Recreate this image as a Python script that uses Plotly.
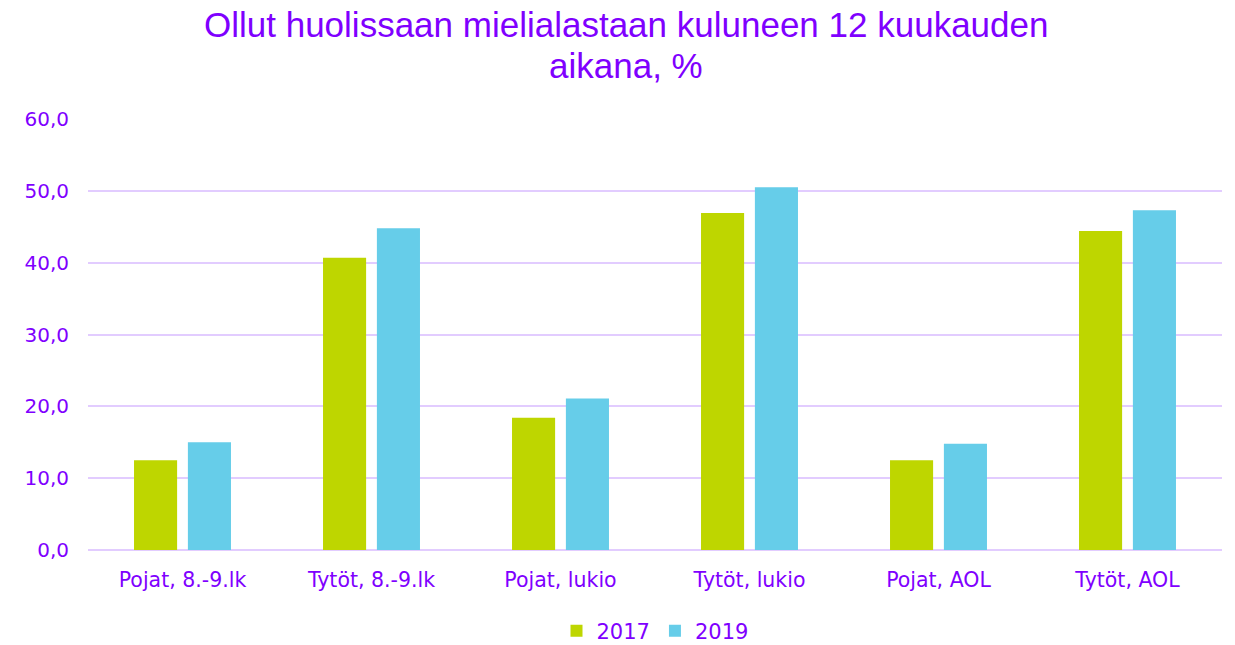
import plotly.graph_objects as go

# Ryhmät ja arvot (%)
ryhmat = ['Pojat, 8.-9.lk', 'Tytöt, 8.-9.lk', 'Pojat, lukio', 'Tytöt, lukio', 'Pojat, AOL', 'Tytöt, AOL']
arvot_2017 = [12.5, 40.7, 18.4, 46.9, 12.5, 44.4]
arvot_2019 = [15.0, 44.8, 21.1, 50.5, 14.8, 47.3]
otsikko_rivit = ['Ollut huolissaan mielialastaan kuluneen 12 kuukauden', 'aikana, %']

violetti = '#7F00FF'
otsikkofontti = 'Liberation Sans, Arial, sans-serif'
fontti = 'DejaVu Sans, sans-serif'

fig = go.Figure()
fig.add_trace(go.Bar(x=ryhmat, y=arvot_2017, name='2017',
                     marker=dict(color='#BED600', line=dict(width=0))))
fig.add_trace(go.Bar(x=ryhmat, y=arvot_2019, name='2019',
                     marker=dict(color='#66CDE9', line=dict(width=0))))

# otsikko kahtena rivinä, keskitettynä koko kuvan leveydelle
for rivi, y_px in zip(otsikko_rivit, [17, 58]):
    fig.add_annotation(text=rivi, showarrow=False,
                       xref='paper', x=(617.5 - 80) / 1134, xanchor='center',
                       yref='paper', y=1 + (111 - y_px) / 431, yanchor='middle',
                       font=dict(family=otsikkofontti, size=35, color=violetti))

# sivulla on 8 px oletusreunus, joten marginaalit on siirretty sen verran
fig.update_layout(
    width=1235, height=645,
    paper_bgcolor='white', plot_bgcolor='white',
    barmode='group', bargap=0.43, bargroupgap=0.2,
    margin=dict(l=80, r=21, t=111, b=103, autoexpand=False),
    font=dict(family=fontti, color=violetti, size=20),
    separators=',.',
    legend=dict(orientation='h', x=0.5, xanchor='center',
                y=-81 / 431, yanchor='middle',
                font=dict(family=fontti, size=21, color=violetti), traceorder='normal',
                itemwidth=30),
    showlegend=True,
)
fig.update_yaxes(range=[0, 60], dtick=10, tickformat='.1f',
                 showgrid=True, gridcolor='#E2CCFF', gridwidth=1.5,
                 zeroline=True, zerolinecolor='#E2CCFF', zerolinewidth=1.5,
                 ticks='', ticklabelstandoff=18,
                 tickfont=dict(family=fontti, size=20, color=violetti))
fig.update_xaxes(showline=False, ticks='', ticklabelstandoff=15,
                 tickfont=dict(family=fontti, size=20.5, color=violetti))

fig.write_html('out.html')
